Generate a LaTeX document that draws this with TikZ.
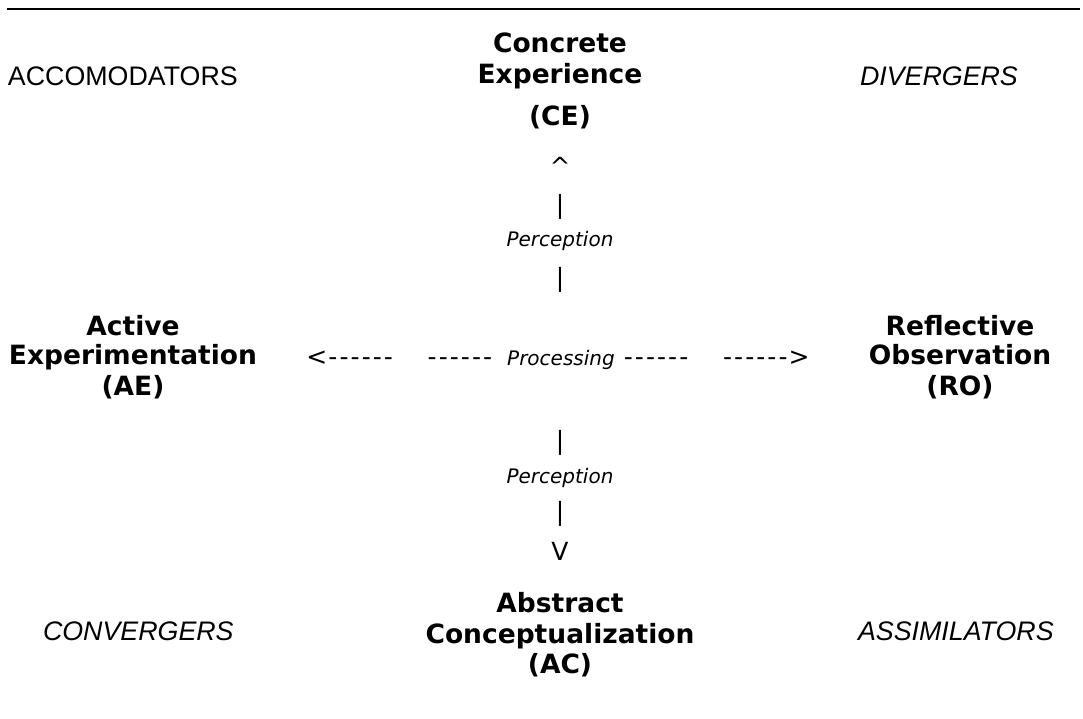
\documentclass[tikz,border=0pt]{standalone}
\usepackage{fontspec}
\setmainfont{DejaVu Sans}
\newfontfamily\arialfont{Liberation Sans}
\newcommand\dd{\makebox[11.1pt]{-}}
\newcommand\sixd{\dd\dd\dd\dd\dd\dd}
\begin{document}
\begin{tikzpicture}[x=1pt,y=-1pt,
  every node/.style={inner sep=0pt, outer sep=0pt},
  head/.style={font=\fontsize{26.5}{30}\selectfont\bfseries, anchor=base},
  glyph/.style={font=\fontsize{25}{30}\selectfont, anchor=base},
  perc/.style={font=\fontsize{20}{24}\selectfont\itshape, anchor=base},
  cornerup/.style={font=\arialfont\fontsize{26.8}{30}\selectfont, anchor=base west},
  cornerit/.style={font=\arialfont\fontsize{26.8}{30}\selectfont\itshape, anchor=base west},
  rule/.style={line width=2.2pt}]
\useasboundingbox (0,0) rectangle (1083,719);
% top rule
\coordinate (rl) at (7,9);
\coordinate (rr) at (1080,9);
\draw[rule] (rl) -- (rr);
% corners
\node[cornerup] (acc) at (8,86) {ACCOMODATORS};
\node[cornerit] (div) at (860,86) {DIVERGERS};
\node[cornerit] (conv) at (43,640) {CONVERGERS};
\node[cornerit] (assim) at (858,640) {ASSIMILATORS};
% top column
\node[head] (ce1) at (560,53) {Concrete};
\node[head] (ce2) at (560,84) {Experience};
\node[head] (ce3) at (560,126) {(CE)};
\node[glyph] (up) at (560,176) {\^{}};
\node[glyph] (bar1) at (560,214) {|};
\node[perc] (perc1) at (560,247) {Perception};
\node[glyph] (bar2) at (560,286) {|};
% bottom column
\node[glyph] (bar3) at (560,449) {|};
\node[perc] (perc2) at (560,483) {Perception};
\node[glyph] (bar4) at (560,520) {|};
\node[glyph] (down) at (560,560) {V};
\node[head] (ac1) at (560,612) {Abstract};
\node[head] (ac2) at (560,643) {Conceptualization};
\node[head] (ac3) at (560,673) {(AC)};
% left column
\node[head] (ae1) at (133,335) {Active};
\node[head] (ae2) at (133,364) {Experimentation};
\node[head] (ae3) at (133,395) {(AE)};
% right column
\node[head] (ro1) at (960,335) {Reflective};
\node[head] (ro2) at (960,364) {Observation};
\node[head] (ro3) at (960,395) {(RO)};
% processing row
\node[glyph, anchor=base east] (pl) at (394,365) {<\sixd};
\node[glyph] (pm) at (558,365) {\sixd\hspace{14pt}{\fontsize{20}{24}\selectfont\itshape Processing}\hspace{8pt}\sixd};
\node[glyph, anchor=base west] (pr) at (722,365) {\sixd>};
\end{tikzpicture}
\end{document}
